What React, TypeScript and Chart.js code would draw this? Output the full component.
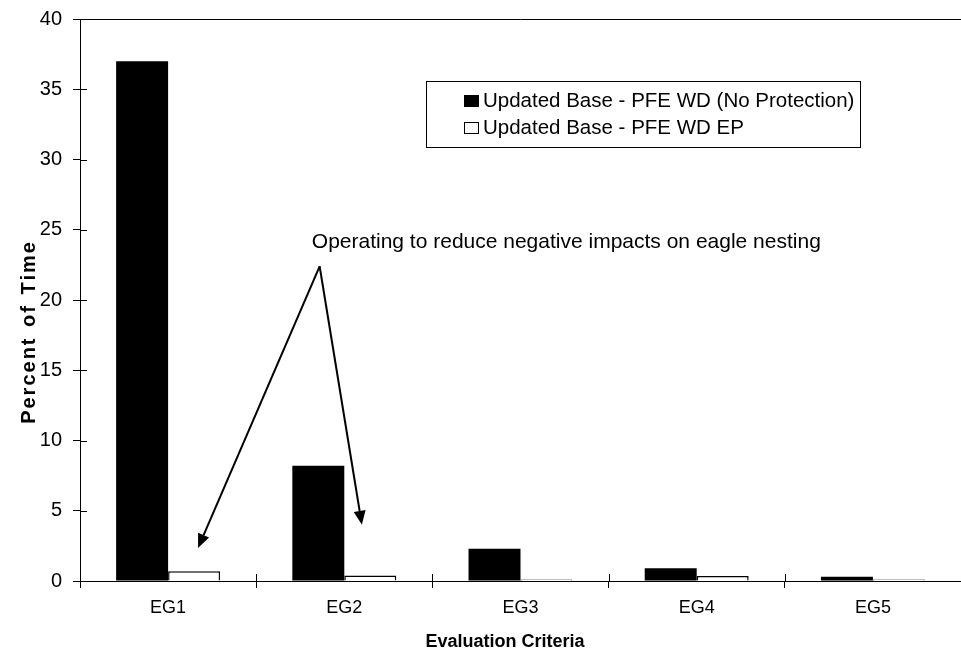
import React, { useEffect, useRef } from "react";
import { Chart, registerables } from "chart.js";

Chart.register(...registerables);

const categories = ["EG1", "EG2", "EG3", "EG4", "EG5"];
const seriesLabels = [
  "Updated Base - PFE WD (No Protection)",
  "Updated Base - PFE WD EP",
];
const noProtection = [37.0, 8.2, 2.3, 0.9, 0.3];
const withEP = [0.7, 0.4, 0.1, 0.35, 0.1];
const yMin = 0;
const yMax = 40;
const yStep = 5;
const yTitle = "Percent of Time";
const xTitle = "Evaluation Criteria";
const noteText = "Operating to reduce negative impacts on eagle nesting";
// annotation anchors in data space: [category index, value]
const noteAnchor = [2.26, 23.7];
const arrowStart = [0.86, 22.4];
const arrowTips = [
  [0.17, 2.35],
  [1.1, 4.0],
];

const FONT = "'Liberation Sans', Arial, Helvetica, sans-serif";

const extrasPlugin = {
  id: "extras",
  afterDraw(chart: any) {
    const ctx = chart.ctx;
    const area = chart.chartArea;
    const xs = chart.scales.x;
    const ys = chart.scales.y;
    ctx.save();
    ctx.strokeStyle = "#000";
    ctx.fillStyle = "#000";
    ctx.lineWidth = 1;

    // top border of plot area
    ctx.beginPath();
    ctx.moveTo(area.left, Math.round(area.top) + 0.5);
    ctx.lineTo(chart.width, Math.round(area.top) + 0.5);
    ctx.stroke();

    // inner halves of crossing tick marks
    ctx.beginPath();
    ys.ticks.forEach((t: any) => {
      const y = Math.round(ys.getPixelForValue(t.value)) + 0.5;
      ctx.moveTo(area.left, y);
      ctx.lineTo(area.left + 7, y);
    });
    for (let i = 1; i <= categories.length; i++) {
      const x = Math.round(xs.getPixelForValue(i - 0.5)) + 0.5;
      ctx.moveTo(x, area.bottom);
      ctx.lineTo(x, area.bottom - 7);
    }
    ctx.stroke();

    // axis titles
    ctx.font = `bold 18px ${FONT}`;
    ctx.textAlign = "center";
    ctx.textBaseline = "alphabetic";
    ctx.fillText(xTitle, 505, 647);
    ctx.save();
    ctx.translate(35, 332);
    ctx.rotate(-Math.PI / 2);
    ctx.font = `bold 20px ${FONT}`;
    try {
      (ctx as any).letterSpacing = "2px";
      (ctx as any).wordSpacing = "2px";
    } catch (e) {}
    ctx.fillText(yTitle, 0, 0);
    ctx.restore();

    // legend
    const lx = 426, ly = 81, lw = 434, lh = 66;
    ctx.fillStyle = "#fff";
    ctx.fillRect(lx, ly, lw, lh);
    ctx.strokeStyle = "#000";
    ctx.lineWidth = 1;
    ctx.strokeRect(lx + 0.5, ly + 0.5, lw, lh);
    ctx.font = `20.5px ${FONT}`;
    ctx.textAlign = "left";
    const rows = [107, 134];
    chart.data.datasets.forEach((ds: any, i: number) => {
      const base = rows[i];
      ctx.fillStyle = ds.backgroundColor;
      ctx.fillRect(464, base - 12, 15, 12);
      ctx.strokeStyle = "#000";
      ctx.lineWidth = 1;
      ctx.strokeRect(464.5, base - 11.5, 14, 11);
      ctx.fillStyle = "#000";
      ctx.fillText(ds.label, 483, base);
    });

    // annotation text
    ctx.font = `21px ${FONT}`;
    ctx.textAlign = "center";
    ctx.fillText(
      noteText,
      xs.getPixelForValue(noteAnchor[0]),
      ys.getPixelForValue(noteAnchor[1])
    );

    // arrows
    const sx = xs.getPixelForValue(arrowStart[0]);
    const sy = ys.getPixelForValue(arrowStart[1]);
    arrowTips.forEach(([tx, tv]) => {
      const ex = xs.getPixelForValue(tx);
      const ey = ys.getPixelForValue(tv);
      const ang = Math.atan2(ey - sy, ex - sx);
      const headLen = 14;
      const headW = 6;
      const bx = ex - headLen * Math.cos(ang);
      const by = ey - headLen * Math.sin(ang);
      ctx.strokeStyle = "#000";
      ctx.lineWidth = 2;
      ctx.beginPath();
      ctx.moveTo(sx, sy);
      ctx.lineTo(bx, by);
      ctx.stroke();
      ctx.beginPath();
      ctx.moveTo(ex, ey);
      ctx.lineTo(bx + headW * Math.sin(ang), by - headW * Math.cos(ang));
      ctx.lineTo(bx - headW * Math.sin(ang), by + headW * Math.cos(ang));
      ctx.closePath();
      ctx.fillStyle = "#000";
      ctx.fill();
    });

    ctx.restore();
  },
};

export default function App() {
  const ref = useRef<HTMLCanvasElement | null>(null);
  useEffect(() => {
    if (!ref.current) return;
    const chart = new Chart(ref.current, {
      type: "bar",
      data: {
        labels: categories,
        datasets: [
          {
            label: seriesLabels[0],
            data: noProtection,
            backgroundColor: "#000000",
            borderColor: "#000000",
            borderWidth: 0,
          },
          {
            label: seriesLabels[1],
            data: withEP,
            backgroundColor: "#ffffff",
            borderColor: "#000000",
            borderWidth: 1.5,
          },
        ],
      },
      options: {
        responsive: false,
        animation: false,
        devicePixelRatio: 1,
        layout: { padding: { left: 0, top: 19, right: 0, bottom: 0 } },
        datasets: {
          bar: { barPercentage: 1, categoryPercentage: 0.59 },
        },
        plugins: {
          legend: { display: false },
          tooltip: { enabled: false },
          title: { display: false },
        },
        scales: {
          x: {
            type: "category",
            grid: {
              display: true,
              drawOnChartArea: false,
              drawTicks: true,
              tickLength: 7,
              color: "#000",
              offset: true,
            },
            border: { display: true, color: "#000", width: 1 },
            ticks: {
              color: "#000",
              font: { family: FONT, size: 18 },
              padding: 9,
              maxRotation: 0,
            },
            afterFit(scale: any) {
              scale.height = 79;
            },
          },
          y: {
            min: yMin,
            max: yMax,
            grid: {
              display: true,
              drawOnChartArea: false,
              drawTicks: true,
              tickLength: 7,
              color: "#000",
            },
            border: { display: true, color: "#000", width: 1 },
            ticks: {
              stepSize: yStep,
              color: "#000",
              font: { family: FONT, size: 20, lineHeight: 1 },
              padding: 11,
            },
            afterFit(scale: any) {
              scale.width = 80;
              scale.paddingTop = 0;
              scale.paddingBottom = 0;
            },
          },
        },
      },
      plugins: [extrasPlugin],
    } as any);
    return () => chart.destroy();
  }, []);
  return (
    <div style={{ position: "fixed", left: 0, top: 0, width: 961, height: 660, background: "#fff" }}>
      <canvas ref={ref} width={961} height={660} />
    </div>
  );
}
